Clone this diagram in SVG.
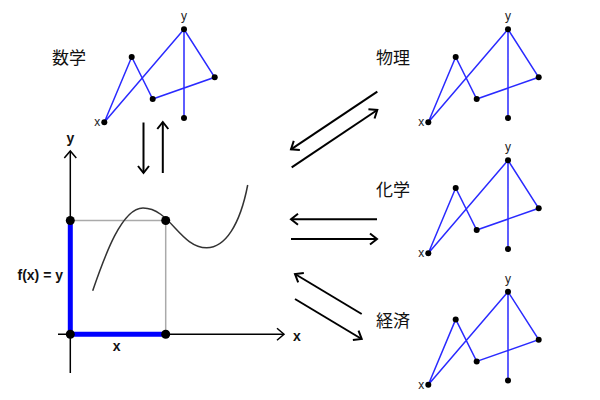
<svg xmlns="http://www.w3.org/2000/svg" xmlns:xlink="http://www.w3.org/1999/xlink" width="600" height="400" viewBox="0 0 600 400">
<style>
.bg{fill:#fff}
.sl{fill:none;stroke:#2a2aff;stroke-width:1.5}
.sd{fill:#000}
.sm{font-family:"Liberation Sans",Arial,sans-serif;font-size:12px;fill:#222}
.cj{font-family:"Noto Sans CJK JP","Noto Sans CJK SC",sans-serif;font-size:17px;fill:#111}
.lb{font-family:"Liberation Sans",Arial,sans-serif;font-size:14px;font-weight:bold;fill:#111}
.ar{fill:none;stroke:#000;stroke-width:2;marker-end:url(#ah)}
.ax{fill:none;stroke:#000;stroke-width:1.5}
.gr{fill:none;stroke:#aaa;stroke-width:1.5}
.bl{fill:none;stroke:#0000ff;stroke-width:5}
</style>
<defs>
<marker id="ah" markerUnits="userSpaceOnUse" markerWidth="16" markerHeight="16" refX="0" refY="0" viewBox="-9 -8 12 16" orient="auto">
<path d="M-7,-5.5 L0,0 L-7,5.5" fill="none" stroke="#000" stroke-width="2"/>
</marker>
<marker id="ax" markerUnits="userSpaceOnUse" markerWidth="16" markerHeight="16" refX="0" refY="0" viewBox="-9 -8 12 16" orient="auto">
<path d="M-7,-6 L0,0 L-7,6" fill="none" stroke="#000" stroke-width="1.5"/>
</marker>
<g id="mini">
<path class="sl" d="M0,0 L27.4,-65.3 L48.4,-23.3 L110.4,-45 L79.7,-93 Z M79.7,-93 L79.7,-4.3"/>
<circle class="sd" cx="0" cy="0" r="3"/>
<circle class="sd" cx="27.4" cy="-65.3" r="3"/>
<circle class="sd" cx="48.4" cy="-23.3" r="3"/>
<circle class="sd" cx="110.4" cy="-45" r="3"/>
<circle class="sd" cx="79.7" cy="-93" r="3"/>
<circle class="sd" cx="79.7" cy="-4.3" r="3"/>
<text class="sm" x="-4" y="4" text-anchor="end">x</text>
<text class="sm" x="79.7" y="-102" text-anchor="middle">y</text>
</g>
</defs>
<rect class="bg" x="0" y="0" width="600" height="400"/>

<g id="math">
<use xlink:href="#mini" href="#mini" transform="translate(104.3,122.3)"/>
<text class="cj" x="52" y="64">数学</text>
</g>
<g id="physics">
<use xlink:href="#mini" href="#mini" transform="translate(428.3,122.3)"/>
<text class="cj" x="376" y="64">物理</text>
</g>
<g id="chemistry">
<use xlink:href="#mini" href="#mini" transform="translate(428.3,253.3)"/>
<text class="cj" x="376" y="196">化学</text>
</g>
<g id="economics">
<use xlink:href="#mini" href="#mini" transform="translate(428.3,384.7)"/>
<text class="cj" x="376" y="327">経済</text>
</g>

<g id="plot">
<line class="gr" x1="70.3" y1="220.5" x2="165.7" y2="220.5"/>
<line class="gr" x1="165.7" y1="220.5" x2="165.7" y2="334.3"/>
<line class="ax" x1="70.3" y1="373" x2="70.3" y2="151" marker-end="url(#ax)"/>
<line class="ax" x1="58" y1="334.3" x2="284" y2="334.3" marker-end="url(#ax)"/>
<path class="bl" d="M70.3,220.5 L70.3,334.3 L165.7,334.3"/>
<path fill="none" stroke="#333" stroke-width="1.5" d="M92.7,290.7 C105,255 122,208 143,208 C170,208 180,247.7 206.7,247.7 C225,247.7 240,225 247.7,185"/>
<circle class="sd" cx="70.3" cy="220.5" r="4.5"/>
<circle class="sd" cx="165.7" cy="220.5" r="4.5"/>
<circle class="sd" cx="70.3" cy="334.3" r="4.5"/>
<circle class="sd" cx="165.7" cy="334.3" r="4.5"/>
<text class="lb" x="70.3" y="143" text-anchor="middle">y</text>
<text class="lb" x="297" y="340.5" text-anchor="middle">x</text>
<text class="lb" x="116.7" y="351" text-anchor="middle">x</text>
<text class="lb" x="63" y="280" text-anchor="end">f(x) = y</text>
</g>

<g id="connectors">
<line class="ar" x1="143.5" y1="122.5" x2="143.5" y2="173"/>
<line class="ar" x1="162.8" y1="173" x2="162.8" y2="122"/>
<line class="ar" x1="377.3" y1="91.7" x2="291" y2="149.3"/>
<line class="ar" x1="291.7" y1="167.3" x2="377.3" y2="110"/>
<line class="ar" x1="377" y1="219.3" x2="291" y2="219.3"/>
<line class="ar" x1="291" y1="239" x2="377" y2="239"/>
<line class="ar" x1="361.7" y1="314" x2="295" y2="274"/>
<line class="ar" x1="295" y1="299" x2="361.7" y2="339"/>
</g>
</svg>
